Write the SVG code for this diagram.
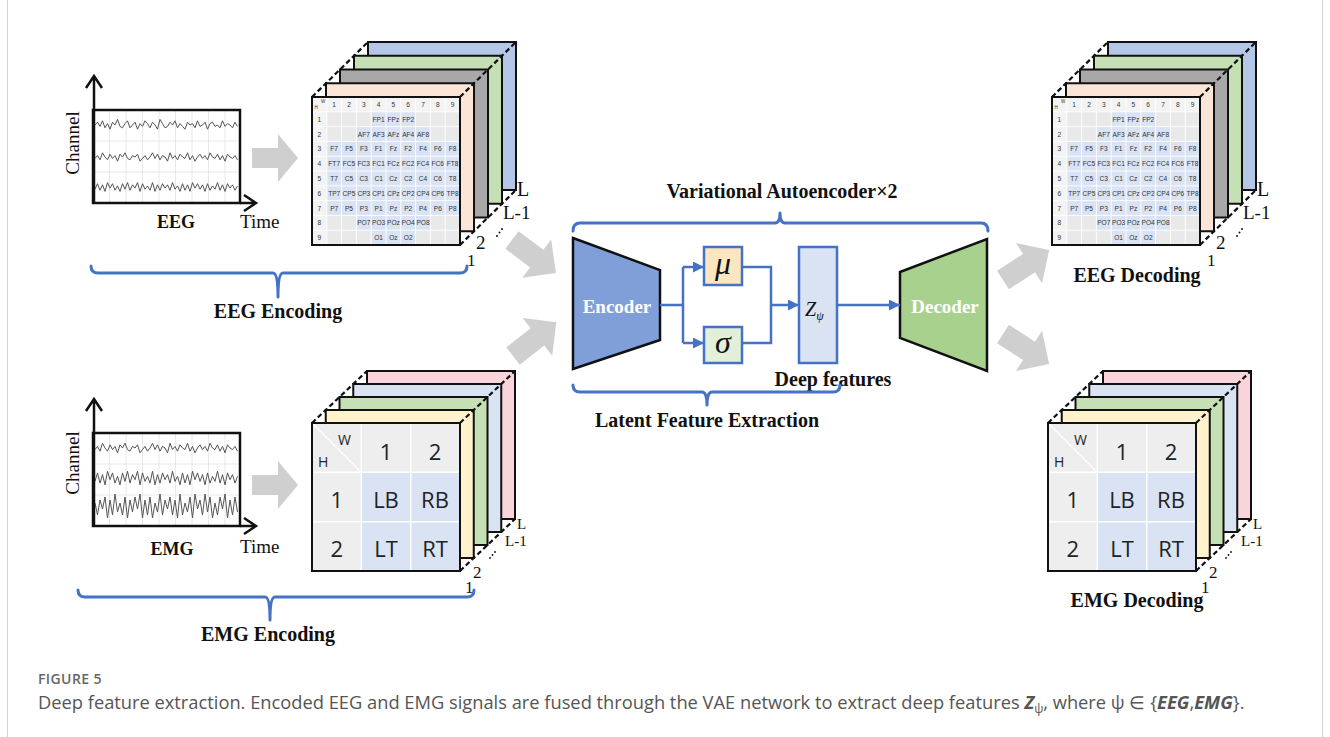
<svg xmlns="http://www.w3.org/2000/svg" width="1330" height="737" viewBox="0 0 1330 737">
<style>
.lbl{font-family:"Liberation Serif","Times New Roman",serif;font-weight:bold;font-size:20px;fill:#111;text-anchor:middle}
.ax{font-family:"Liberation Serif","Times New Roman",serif;font-size:19px;fill:#111}
.num{font-family:"Liberation Serif","Times New Roman",serif;fill:#111}
.layer{stroke:#111;stroke-width:2}
.dash{stroke:#111;stroke-width:2.2;stroke-dasharray:5 3;fill:none}
.brace{fill:none;stroke:#4472c4;stroke-width:3;stroke-linejoin:round;stroke-linecap:round}
.garrow{fill:#cfcfcf}
.trace{fill:none;stroke:#555;stroke-width:1;vector-effect:non-scaling-stroke}
.grid{stroke:#e2e2e2;stroke-width:0.8;fill:none}
.tt{font-family:"Liberation Sans",Arial,sans-serif;font-size:6.6px;fill:#333;text-anchor:middle}
.big{font-family:"Open Sans","Liberation Sans",sans-serif;font-size:22px;fill:#222;text-anchor:middle}
.conn{fill:none;stroke:#4472c4;stroke-width:2.5}
.axis{fill:none;stroke:#111;stroke-width:2.5}
.box{stroke:#4472c4;stroke-width:2.5}
.frame{stroke:#d4d4d4;stroke-width:1}
</style>
<defs>
<marker id="ah" markerUnits="userSpaceOnUse" markerWidth="11" markerHeight="11" refX="11" refY="5.5" orient="auto"><path d="M0,0L11,5.5L0,11Z" fill="#4472c4"/></marker>
<path id="ga" d="M0,-10H26V-24L46,0L26,24V10H0Z"/>
<path id="gd" d="M0,-11H31V-24L55,0L31,24V11H0Z"/>
<polyline id="t1" class="trace" points="0,0 1,-2 2,1 3,-3 4,2 5,-1 6,3 7,-2 8,0 9,-4 10,1 11,2 12,-1 13,-3 14,2 15,0 16,-2 17,3 18,-1 19,1 20,-3 21,-1 22,2 23,-2 24,0 25,3 26,-4 27,-1 28,2 29,1 30,-2 31,0 32,-3 33,2 34,-1 35,1 36,3 37,-2 38,0 39,-1 40,2 41,-3 42,1 43,0 44,-2 45,3 46,-1 47,-2 48,1 49,0 50,2 51,-3 52,1 53,-1 54,0 55,2 56,-2 57,1"/>
<polyline id="t2" class="trace" points="0,1 1,-1 2,2 3,-3 4,0 5,2 6,-2 7,1 8,-1 9,3 10,-2 11,0 12,-3 13,1 14,2 15,-1 16,0 17,-2 18,3 19,1 20,-1 21,2 22,0 23,-3 24,1 25,-2 26,2 27,-1 28,0 29,3 30,-3 31,1 32,-1 33,2 34,-2 35,0 36,1 37,-3 38,2 39,-1 40,3 41,0 42,-2 43,1 44,-1 45,2 46,-3 47,0 48,1 49,-2 50,2 51,-1 52,3 53,-2 54,0 55,1 56,-1 57,2"/>
<polyline id="t3" class="trace" points="0,2 1,-3 2,3 3,-2 4,4 5,-4 6,1 7,-3 8,3 9,-1 10,4 11,-3 12,2 13,-4 14,3 15,-2 16,1 17,-4 18,4 19,-3 20,2 21,-1 22,3 23,-4 24,4 25,-2 26,3 27,-3 28,1 29,-2 30,3 31,-4 32,2 33,-1 34,4 35,-3 36,3 37,-2 38,4 39,-4 40,1 41,-3 42,2 43,-2 44,4 45,-3 46,3 47,-1 48,2 49,-4 50,3 51,-2 52,4 53,-3 54,1 55,-2 56,3 57,-1"/>

<g id="eegCube">
 <rect class="layer" x="56" y="-55" width="148" height="148" fill="#b4c7e7"/>
 <rect class="layer" x="42" y="-41.25" width="148" height="148" fill="#c5e0b4"/>
 <rect class="layer" x="28" y="-27.5" width="148" height="148" fill="#a8a8a8"/>
 <rect class="layer" x="14" y="-13.75" width="148" height="148" fill="#fbe5d6"/>
 <rect x="0" y="0" width="148" height="148" fill="#e9e9e9"/>
 <rect x="0" y="0" width="148" height="14.8" fill="#f3f3f3"/>
 <rect x="0" y="0" width="14.8" height="148" fill="#f3f3f3"/>
 <g fill="#dae3f3">
  <rect x="59.2" y="14.8" width="44.4" height="14.8"/>
  <rect x="44.4" y="29.6" width="74" height="14.8"/>
  <rect x="14.8" y="44.4" width="133.2" height="74"/>
  <rect x="44.4" y="118.4" width="74" height="14.8"/>
  <rect x="59.2" y="133.2" width="44.4" height="14.8"/>
 </g>
 <path d="M14.8,0V148M29.6,0V148M44.4,0V148M59.2,0V148M74,0V148M88.8,0V148M103.6,0V148M118.4,0V148M133.2,0V148M0,14.8H148M0,29.6H148M0,44.4H148M0,59.2H148M0,74H148M0,88.8H148M0,103.6H148M0,118.4H148M0,133.2H148" stroke="#fff" stroke-width="0.9" fill="none"/>
 <rect x="0" y="0" width="148" height="148" fill="none" stroke="#111" stroke-width="2"/>
 <text class="tt" style="font-size:4.5px;text-anchor:start" x="9" y="6">W</text>
 <text class="tt" style="font-size:4.5px;text-anchor:start" x="2.5" y="11.5">H</text>
 <text class="tt" y="10"><tspan x="22.2">1</tspan><tspan x="37">2</tspan><tspan x="51.8">3</tspan><tspan x="66.6">4</tspan><tspan x="81.4">5</tspan><tspan x="96.2">6</tspan><tspan x="111">7</tspan><tspan x="125.8">8</tspan><tspan x="140.6">9</tspan></text>
 <text class="tt" x="7.4"><tspan x="7.4" y="24.8">1</tspan><tspan x="7.4" y="39.6">2</tspan><tspan x="7.4" y="54.4">3</tspan><tspan x="7.4" y="69.2">4</tspan><tspan x="7.4" y="84">5</tspan><tspan x="7.4" y="98.8">6</tspan><tspan x="7.4" y="113.6">7</tspan><tspan x="7.4" y="128.4">8</tspan><tspan x="7.4" y="143.2">9</tspan></text>
 <text class="tt" y="24.8"><tspan x="66.6">FP1</tspan><tspan x="81.4">FPz</tspan><tspan x="96.2">FP2</tspan></text>
 <text class="tt" y="39.6"><tspan x="51.8">AF7</tspan><tspan x="66.6">AF3</tspan><tspan x="81.4">AFz</tspan><tspan x="96.2">AF4</tspan><tspan x="111">AF8</tspan></text>
 <text class="tt" y="54.4"><tspan x="22.2">F7</tspan><tspan x="37">F5</tspan><tspan x="51.8">F3</tspan><tspan x="66.6">F1</tspan><tspan x="81.4">Fz</tspan><tspan x="96.2">F2</tspan><tspan x="111">F4</tspan><tspan x="125.8">F6</tspan><tspan x="140.6">F8</tspan></text>
 <text class="tt" y="69.2"><tspan x="22.2">FT7</tspan><tspan x="37">FC5</tspan><tspan x="51.8">FC3</tspan><tspan x="66.6">FC1</tspan><tspan x="81.4">FCz</tspan><tspan x="96.2">FC2</tspan><tspan x="111">FC4</tspan><tspan x="125.8">FC6</tspan><tspan x="140.6">FT8</tspan></text>
 <text class="tt" y="84"><tspan x="22.2">T7</tspan><tspan x="37">C5</tspan><tspan x="51.8">C3</tspan><tspan x="66.6">C1</tspan><tspan x="81.4">Cz</tspan><tspan x="96.2">C2</tspan><tspan x="111">C4</tspan><tspan x="125.8">C6</tspan><tspan x="140.6">T8</tspan></text>
 <text class="tt" y="98.8"><tspan x="22.2">TP7</tspan><tspan x="37">CP5</tspan><tspan x="51.8">CP3</tspan><tspan x="66.6">CP1</tspan><tspan x="81.4">CPz</tspan><tspan x="96.2">CP2</tspan><tspan x="111">CP4</tspan><tspan x="125.8">CP6</tspan><tspan x="140.6">TP8</tspan></text>
 <text class="tt" y="113.6"><tspan x="22.2">P7</tspan><tspan x="37">P5</tspan><tspan x="51.8">P3</tspan><tspan x="66.6">P1</tspan><tspan x="81.4">Pz</tspan><tspan x="96.2">P2</tspan><tspan x="111">P4</tspan><tspan x="125.8">P6</tspan><tspan x="140.6">P8</tspan></text>
 <text class="tt" y="128.4"><tspan x="51.8">PO7</tspan><tspan x="66.6">PO3</tspan><tspan x="81.4">POz</tspan><tspan x="96.2">PO4</tspan><tspan x="111">PO8</tspan></text>
 <text class="tt" y="143.2"><tspan x="66.6">O1</tspan><tspan x="81.4">Oz</tspan><tspan x="96.2">O2</tspan></text>
 <path class="dash" d="M0,0L56,-55M148,0L204,-55M148,148L204,93"/>
 <text class="num" x="205" y="99" font-size="20">L</text>
 <text class="num" x="191" y="122" font-size="19">L-1</text>
 <g fill="#111"><circle cx="185" cy="139" r="1"/><circle cx="187.5" cy="135.5" r="1"/><circle cx="190" cy="132" r="1"/></g>
 <text class="num" x="164" y="152" font-size="19">2</text>
 <text class="num" x="155" y="169" font-size="17">1</text>
</g>

<g id="emgCube">
 <rect class="layer" x="55" y="-52" width="148" height="148" fill="#f9d5db"/>
 <rect class="layer" x="41.25" y="-39" width="148" height="148" fill="#dae3f3"/>
 <rect class="layer" x="27.5" y="-26" width="148" height="148" fill="#c5e0b4"/>
 <rect class="layer" x="13.75" y="-13" width="148" height="148" fill="#fff2cc"/>
 <rect x="0" y="0" width="148" height="148" fill="#eeeeee"/>
 <rect x="49.3" y="49.3" width="98.7" height="98.7" fill="#dae3f3"/>
 <path d="M49.3,0V148M98.7,0V148M0,49.3H148M0,98.7H148" stroke="#fff" stroke-width="1.5" fill="none"/>
 <path d="M0,0L49.3,49.3" stroke="#fff" stroke-width="1.2"/>
 <rect x="0" y="0" width="148" height="148" fill="none" stroke="#111" stroke-width="2"/>
 <text class="big" style="font-size:14px;text-anchor:start" x="26" y="22">W</text>
 <text class="big" style="font-size:14px;text-anchor:start" x="6" y="44">H</text>
 <text class="big" y="37"><tspan x="74">1</tspan><tspan x="123">2</tspan></text>
 <text class="big" y="85"><tspan x="24.7">1</tspan><tspan x="74">LB</tspan><tspan x="123">RB</tspan></text>
 <text class="big" y="134"><tspan x="24.7">2</tspan><tspan x="74">LT</tspan><tspan x="123">RT</tspan></text>
 <path class="dash" d="M0,0L55,-52M148,0L203,-52M148,148L203,96"/>
 <text class="num" x="205" y="106" font-size="15">L</text>
 <text class="num" x="193" y="123" font-size="15">L-1</text>
 <g fill="#111"><circle cx="178" cy="135" r="0.9"/><circle cx="180.5" cy="132" r="0.9"/><circle cx="183" cy="129" r="0.9"/></g>
 <text class="num" x="161" y="155" font-size="17">2</text>
 <text class="num" x="153" y="170" font-size="17">1</text>
</g>
</defs>

<rect x="0" y="0" width="1330" height="737" fill="#fff"/>
<path class="frame" d="M7.5,0V737M1322.5,0V737"/>

<g id="eeg-signal">
 <rect x="93" y="110" width="147" height="93" fill="#fff"/>
 <path class="grid" d="M109.5,110V203M126,110V203M142.5,110V203M159,110V203M175.5,110V203M192,110V203M208.5,110V203M225,110V203M93,141H240M93,172H240"/>
 <use href="#t1" transform="translate(95,125) scale(2.5,1.4)"/>
 <use href="#t2" transform="translate(95,157) scale(2.5,1.4)"/>
 <use href="#t3" transform="translate(95,187) scale(2.5,1.1)"/>
 <rect x="93" y="110" width="147" height="93" fill="none" stroke="#111" stroke-width="2.5"/>
 <path class="axis" d="M94,203V76M86,88L94,76L102,88M240,203H256M244,195L256,203L244,211"/>
 <text class="ax" transform="translate(79,143) rotate(-90)" text-anchor="middle">Channel</text>
 <text class="lbl" x="176" y="228" style="font-size:18px">EEG</text>
 <text class="ax" x="240" y="228">Time</text>
</g>

<g id="emg-signal">
 <rect x="93" y="433" width="147" height="93" fill="#fff"/>
 <path class="grid" d="M109.5,433V526M126,433V526M142.5,433V526M159,433V526M175.5,433V526M192,433V526M208.5,433V526M225,433V526M93,464H240M93,495H240"/>
 <use href="#t2" transform="translate(95,448) scale(2.5,1.6)"/>
 <use href="#t3" transform="translate(95,478) scale(2.5,1.7)"/>
 <use href="#t3" transform="translate(237.5,506) scale(-2.5,3)"/>
 <rect x="93" y="433" width="147" height="93" fill="none" stroke="#111" stroke-width="2.5"/>
 <path class="axis" d="M94,526V399M86,411L94,399L102,411M240,526H256M244,518L256,526L244,534"/>
 <text class="ax" transform="translate(79,463) rotate(-90)" text-anchor="middle">Channel</text>
 <text class="lbl" x="172" y="555" style="font-size:18px">EMG</text>
 <text class="ax" x="240" y="553">Time</text>
</g>

<g id="eeg-encoding"><use href="#eegCube" transform="translate(312,97)"/></g>
<g id="emg-encoding"><use href="#emgCube" transform="translate(312,423)"/></g>
<g id="eeg-decoding"><use href="#eegCube" transform="translate(1052,97)"/><text class="lbl" x="1137" y="282">EEG Decoding</text></g>
<g id="emg-decoding"><use href="#emgCube" transform="translate(1048,423)"/><text class="lbl" x="1137" y="607">EMG Decoding</text></g>

<g id="eeg-encoding-label">
 <path class="brace" d="M91,266Q91,273 98,273H273Q278,273 278,297Q278,273 283,273H460Q467,273 467,266"/>
 <text class="lbl" x="278" y="318">EEG Encoding</text>
</g>
<g id="emg-encoding-label">
 <path class="brace" d="M78,590Q78,597 85,597H265Q270,597 270,620Q270,597 275,597H467Q474,597 474,590"/>
 <text class="lbl" x="268" y="641">EMG Encoding</text>
</g>

<g id="vae">
 <text class="lbl" x="782" y="198">Variational  Autoencoder×2</text>
 <path class="brace" d="M573,231Q573,223 580,223H775Q780,223 780,213Q780,223 785,223H981Q988,223 988,231"/>
</g>
<g id="encoder">
 <polygon points="573,238 660,270 660,340 573,369" fill="#809fd9" stroke="#111" stroke-width="2.5"/>
 <text class="lbl" x="617" y="313" style="fill:#fff;font-size:19px">Encoder</text>
</g>
<g id="mu"><rect class="box" x="704" y="247" width="38" height="38" fill="#fce6c0"/><text class="num" x="723" y="274" font-size="32" font-style="italic" text-anchor="middle">μ</text></g>
<g id="sigma"><rect class="box" x="704" y="327" width="38" height="36" fill="#e2efd9"/><text class="num" x="723" y="353" font-size="32" font-style="italic" text-anchor="middle">σ</text></g>
<g id="z"><rect class="box" x="799" y="247" width="38" height="116" fill="#dae3f3"/><text class="num" x="805" y="316" font-size="20" font-style="italic">Z<tspan font-size="12" dy="4">ψ</tspan></text></g>
<g id="decoder">
 <polygon points="900,272 987,239 987,371 900,338" fill="#a9d18e" stroke="#111" stroke-width="2.5"/>
 <text class="lbl" x="945" y="313" style="fill:#fff;font-size:19px">Decoder</text>
</g>
<g id="deep-features"><text class="lbl" x="833" y="386">Deep features</text></g>
<g id="latent">
 <path class="brace" d="M573,385Q573,392 580,392H702Q707,392 707,405Q707,392 712,392H833Q840,392 840,385"/>
 <text class="lbl" x="707" y="427">Latent Feature Extraction</text>
</g>

<g id="connectors">
 <g class="garrow">
  <use href="#ga" transform="translate(252,158)"/>
  <use href="#ga" transform="translate(252,485)"/>
  <use href="#gd" transform="translate(512,240) rotate(37)"/>
  <use href="#gd" transform="translate(513,356) rotate(-38)"/>
  <use href="#gd" transform="translate(1003,280) rotate(-33)"/>
  <use href="#gd" transform="translate(1003,334) rotate(33)"/>
 </g>
 <path class="conn" d="M660,305H683M683,267V343M742,267H771V343H742"/>
 <path class="conn" d="M683,267H704" marker-end="url(#ah)"/>
 <path class="conn" d="M683,343H704" marker-end="url(#ah)"/>
 <path class="conn" d="M771,305H799" marker-end="url(#ah)"/>
 <path class="conn" d="M837,305H900" marker-end="url(#ah)"/>
</g>

<g id="caption" font-family="'Open Sans','Liberation Sans',sans-serif">
 <text x="38" y="684" font-size="14" font-weight="600" fill="#666" letter-spacing="0.4">FIGURE 5</text>
 <text x="38" y="709" font-size="18.3" fill="#555">Deep feature extraction. Encoded EEG and EMG signals are fused through the VAE network to extract deep features <tspan font-weight="bold" font-style="italic">Z</tspan><tspan font-size="12" dy="4">ψ</tspan><tspan dy="-4">, where ψ ∈ {</tspan><tspan font-weight="bold" font-style="italic">EEG</tspan>,<tspan font-weight="bold" font-style="italic">EMG</tspan>}.</text>
</g>
</svg>
